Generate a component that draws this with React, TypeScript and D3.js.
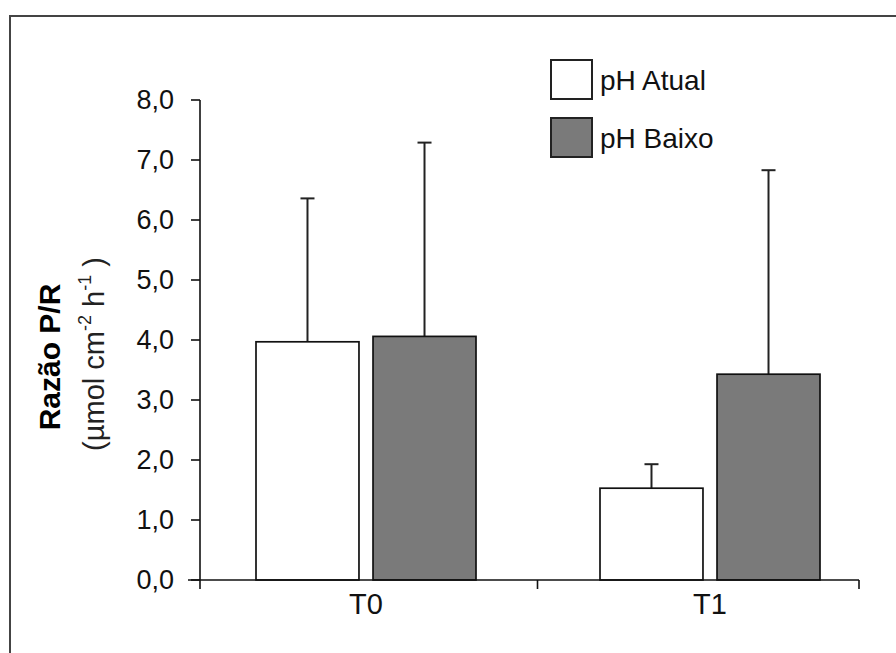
import React from "react";
import { scaleLinear, scaleBand, range } from "d3";

// data
const categories = ["T0", "T1"];
const seriesNames = ["pH Atual", "pH Baixo"];
const atualMeans = [3.97, 1.53];
const atualErrors = [2.39, 0.4];
const baixoMeans = [4.06, 3.43];
const baixoErrors = [3.23, 3.4];
const yTicks = range(0, 8.01, 1);

const fills = ["#ffffff", "#7a7a7a"];
const FONT = "'Liberation Sans', Arial, sans-serif";

function App() {
  const width = 896;
  const height = 653;
  const plotLeft = 200;
  const plotRight = 859;
  const plotTop = 100;
  const plotBottom = 580;

  const yScale = scaleLinear().domain([0, 8]).range([plotBottom, plotTop]);
  const xScale = scaleBand().domain(categories).range([193.5, 881.5]).padding(0);
  const inner = scaleBand()
    .domain(seriesNames)
    .range([62.5, 282.5])
    .paddingInner(0.12)
    .paddingOuter(0);

  const rows = categories.map((c, i) => ({
    category: c,
    values: [
      { key: seriesNames[0], mean: atualMeans[i], err: atualErrors[i] },
      { key: seriesNames[1], mean: baixoMeans[i], err: baixoErrors[i] },
    ],
  }));

  const xTicks = [plotLeft, xScale(categories[1]) as number, plotRight];

  return (
    <svg
      width={width}
      height={height}
      style={{ position: "absolute", left: 0, top: 0, background: "#fff" }}
      fontFamily={FONT}
    >
      {/* outer frame, cut off at right and bottom */}
      <rect x={10} y={16} width={width + 20} height={height + 20} fill="none" stroke="#444" strokeWidth={2} />

      {/* bars */}
      {rows.map((row) => (
        <g key={row.category} transform={`translate(${xScale(row.category)},0)`}>
          {row.values.map((v, j) => {
            const x0 = inner(v.key) as number;
            const bw = inner.bandwidth();
            const cx = x0 + bw / 2;
            return (
              <g key={v.key}>
                <line x1={cx} x2={cx} y1={yScale(v.mean)} y2={yScale(v.mean + v.err)} stroke="#222" strokeWidth={2} />
                <line x1={cx - 7} x2={cx + 7} y1={yScale(v.mean + v.err)} y2={yScale(v.mean + v.err)} stroke="#222" strokeWidth={2} />
                <rect
                  x={x0}
                  y={yScale(v.mean)}
                  width={bw}
                  height={yScale(0) - yScale(v.mean)}
                  fill={fills[j]}
                  stroke="#111"
                  strokeWidth={1.7}
                />
              </g>
            );
          })}
        </g>
      ))}

      {/* y axis */}
      <line x1={plotLeft} x2={plotLeft} y1={plotTop} y2={plotBottom} stroke="#111" strokeWidth={1.6} />
      {yTicks.map((t) => (
        <g key={t} transform={`translate(0,${yScale(t)})`}>
          <line x1={plotLeft - 9} x2={plotLeft} stroke="#111" strokeWidth={1.6} />
          <text x={174} dy="0.35em" textAnchor="end" fontSize={27} fill="#111">
            {t.toFixed(1).replace(".", ",")}
          </text>
        </g>
      ))}

      {/* x axis */}
      <line x1={plotLeft - 12} x2={plotRight} y1={plotBottom} y2={plotBottom} stroke="#111" strokeWidth={1.6} />
      {xTicks.map((x, i) => (
        <line key={i} x1={x} x2={x} y1={plotBottom} y2={plotBottom + 9} stroke="#111" strokeWidth={1.6} />
      ))}
      {categories.map((c) => (
        <text
          key={c}
          x={(xScale(c) as number) + 62.5 + 110}
          y={604}
          dy="0.35em"
          textAnchor="middle"
          fontSize={29}
          fill="#111"
        >
          {c}
        </text>
      ))}

      {/* y axis title */}
      <text transform="translate(60,357) rotate(-90)" textAnchor="middle" fontSize={30} fontWeight="bold" fill="#000">
        Razão P/R
      </text>
      <text transform="translate(104,354) rotate(-90)" textAnchor="middle" fontSize={29} fill="#222">
        (µmol cm
        <tspan fontSize={18} dy={-13}>-2</tspan>
        <tspan dy={13}> h</tspan>
        <tspan fontSize={18} dy={-13}>-1</tspan>
        <tspan dy={13}> )</tspan>
      </text>

      {/* legend */}
      {seriesNames.map((s, i) => (
        <g key={s} transform={`translate(551,${60 + i * 58})`}>
          <rect width={41} height={39} fill={fills[i]} stroke="#222" strokeWidth={2} />
          <text x={49} y={20} dy="0.35em" fontSize={28} fill="#111">
            {s}
          </text>
        </g>
      ))}
    </svg>
  );
}

export default App;
